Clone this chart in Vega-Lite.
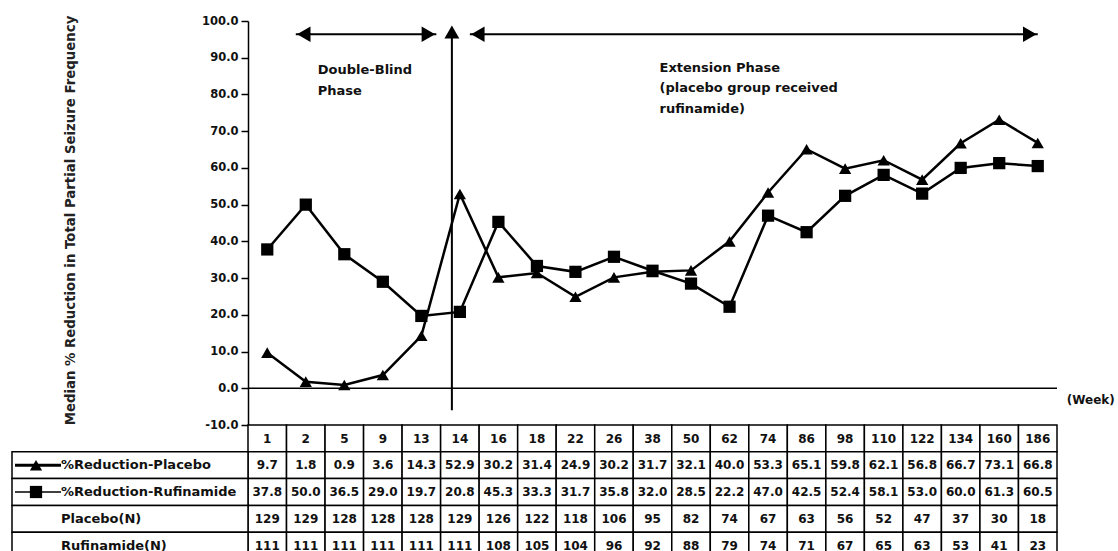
{
  "$schema": "https://vega.github.io/schema/vega-lite/v6.json",
  "width": 809,
  "height": 530,
  "autosize": {"type": "none"},
  "padding": {"left": 248, "top": 21, "right": 61, "bottom": 0},
  "background": "white",
  "config": {"font": "DejaVu Sans", "view": {"stroke": null}},
  "datasets": {
    "series": [
      {"week": 1, "placebo": 9.7, "rufinamide": 37.8, "nPlacebo": 129, "nRufinamide": 111},
      {"week": 2, "placebo": 1.8, "rufinamide": 50.0, "nPlacebo": 129, "nRufinamide": 111},
      {"week": 5, "placebo": 0.9, "rufinamide": 36.5, "nPlacebo": 128, "nRufinamide": 111},
      {"week": 9, "placebo": 3.6, "rufinamide": 29.0, "nPlacebo": 128, "nRufinamide": 111},
      {"week": 13, "placebo": 14.3, "rufinamide": 19.7, "nPlacebo": 128, "nRufinamide": 111},
      {"week": 14, "placebo": 52.9, "rufinamide": 20.8, "nPlacebo": 129, "nRufinamide": 111},
      {"week": 16, "placebo": 30.2, "rufinamide": 45.3, "nPlacebo": 126, "nRufinamide": 108},
      {"week": 18, "placebo": 31.4, "rufinamide": 33.3, "nPlacebo": 122, "nRufinamide": 105},
      {"week": 22, "placebo": 24.9, "rufinamide": 31.7, "nPlacebo": 118, "nRufinamide": 104},
      {"week": 26, "placebo": 30.2, "rufinamide": 35.8, "nPlacebo": 106, "nRufinamide": 96},
      {"week": 38, "placebo": 31.7, "rufinamide": 32.0, "nPlacebo": 95, "nRufinamide": 92},
      {"week": 50, "placebo": 32.1, "rufinamide": 28.5, "nPlacebo": 82, "nRufinamide": 88},
      {"week": 62, "placebo": 40.0, "rufinamide": 22.2, "nPlacebo": 74, "nRufinamide": 79},
      {"week": 74, "placebo": 53.3, "rufinamide": 47.0, "nPlacebo": 67, "nRufinamide": 74},
      {"week": 86, "placebo": 65.1, "rufinamide": 42.5, "nPlacebo": 63, "nRufinamide": 71},
      {"week": 98, "placebo": 59.8, "rufinamide": 52.4, "nPlacebo": 56, "nRufinamide": 67},
      {"week": 110, "placebo": 62.1, "rufinamide": 58.1, "nPlacebo": 52, "nRufinamide": 65},
      {"week": 122, "placebo": 56.8, "rufinamide": 53.0, "nPlacebo": 47, "nRufinamide": 63},
      {"week": 134, "placebo": 66.7, "rufinamide": 60.0, "nPlacebo": 37, "nRufinamide": 53},
      {"week": 160, "placebo": 73.1, "rufinamide": 61.3, "nPlacebo": 30, "nRufinamide": 41},
      {"week": 186, "placebo": 66.8, "rufinamide": 60.5, "nPlacebo": 18, "nRufinamide": 23}
    ]
  },
  "resolve": {"scale": {"x": "independent", "y": "independent"}},
  "layer": [
    {
      "data": {"name": "series"},
      "layer": [
        {
          "mark": {"type": "rect", "fill": "white", "stroke": "black", "strokeWidth": 1.5},
          "encoding": {
            "x": {"field": "week", "type": "ordinal", "scale": {"type": "band", "domain": [1,2,5,9,13,14,16,18,22,26,38,50,62,74,86,98,110,122,134,160,186], "paddingInner": 0, "paddingOuter": 0}, "axis": null},
            "y": {"datum": "week", "type": "nominal", "scale": {"type": "band", "domain": ["week","placebo","rufinamide","nPlacebo","nRufinamide"], "range": [404, 538], "paddingInner": 0, "paddingOuter": 0}, "axis": null}
          }
        },
        {
          "mark": {"type": "text", "fontSize": 12, "fontWeight": "bold", "color": "#111", "dy": 1},
          "encoding": {
            "x": {"field": "week", "type": "ordinal", "axis": null},
            "y": {"datum": "week", "type": "nominal", "axis": null},
            "text": {"field": "week", "type": "ordinal"}
          }
        },
        {
          "transform": [{"fold": ["placebo", "rufinamide", "nPlacebo", "nRufinamide"], "as": ["row", "v"]}],
          "mark": {"type": "rect", "fill": "white", "stroke": "black", "strokeWidth": 1.5},
          "encoding": {
            "x": {"field": "week", "type": "ordinal", "axis": null},
            "y": {"field": "row", "type": "nominal", "axis": null}
          }
        },
        {
          "transform": [{"fold": ["placebo", "rufinamide"], "as": ["row", "v"]}],
          "mark": {"type": "text", "fontSize": 12, "fontWeight": "bold", "color": "#111"},
          "encoding": {
            "x": {"field": "week", "type": "ordinal", "axis": null},
            "y": {"field": "row", "type": "nominal", "axis": null},
            "text": {"field": "v", "type": "quantitative", "format": ".1f"}
          }
        },
        {
          "transform": [{"fold": ["nPlacebo", "nRufinamide"], "as": ["row", "v"]}],
          "mark": {"type": "text", "fontSize": 12, "fontWeight": "bold", "color": "#111"},
          "encoding": {
            "x": {"field": "week", "type": "ordinal", "axis": null},
            "y": {"field": "row", "type": "nominal", "axis": null},
            "text": {"field": "v", "type": "quantitative", "format": "d"}
          }
        }
      ]
    },
    {
      "data": {"values": [
        {"key": "placebo", "label": "%Reduction-Placebo"},
        {"key": "rufinamide", "label": "%Reduction-Rufinamide"},
        {"key": "nPlacebo", "label": "Placebo(N)"},
        {"key": "nRufinamide", "label": "Rufinamide(N)"}
      ]},
      "layer": [
        {
          "mark": {"type": "rect", "fill": "white", "stroke": "black", "strokeWidth": 1.5},
          "encoding": {
            "x": {"datum": "label", "type": "nominal", "scale": {"type": "band", "domain": ["label"], "range": [-236, 0], "paddingInner": 0, "paddingOuter": 0}, "axis": null},
            "y": {"field": "key", "type": "nominal", "scale": {"type": "band", "domain": ["week","placebo","rufinamide","nPlacebo","nRufinamide"], "range": [404, 538], "paddingInner": 0, "paddingOuter": 0}, "axis": null}
          }
        },
        {
          "mark": {"type": "text", "align": "left", "dx": 49, "fontSize": 13, "fontWeight": "bold", "color": "#111"},
          "encoding": {
            "x": {"datum": "label", "type": "nominal", "bandPosition": 0, "axis": null},
            "y": {"field": "key", "type": "nominal", "axis": null},
            "text": {"field": "label"}
          }
        },
        {
          "transform": [{"filter": "datum.key === 'placebo'"}],
          "mark": {"type": "rule", "color": "black", "strokeWidth": 3, "xOffset": 3, "x2Offset": 49},
          "encoding": {
            "x": {"datum": "label", "type": "nominal", "bandPosition": 0, "axis": null},
            "x2": {"datum": "label", "bandPosition": 0},
            "y": {"field": "key", "type": "nominal", "axis": null}
          }
        },
        {
          "transform": [{"filter": "datum.key === 'rufinamide'"}],
          "mark": {"type": "rule", "color": "black", "strokeWidth": 1.5, "xOffset": 3, "x2Offset": 49},
          "encoding": {
            "x": {"datum": "label", "type": "nominal", "bandPosition": 0, "axis": null},
            "x2": {"datum": "label", "bandPosition": 0},
            "y": {"field": "key", "type": "nominal", "axis": null}
          }
        },
        {
          "transform": [{"filter": "datum.key === 'placebo' || datum.key === 'rufinamide'"}],
          "mark": {"type": "point", "filled": true, "opacity": 1, "color": "black", "size": 150, "xOffset": 24},
          "encoding": {
            "x": {"datum": "label", "type": "nominal", "bandPosition": 0, "axis": null},
            "y": {"field": "key", "type": "nominal", "axis": null},
            "shape": {"field": "key", "type": "nominal", "scale": {"domain": ["placebo", "rufinamide"], "range": ["triangle-up", "square"]}, "legend": null}
          }
        }
      ]
    },
    {
      "layer": [
        {
          "data": {"values": [{}]},
          "mark": {"type": "rule", "color": "black", "strokeWidth": 1.5},
          "encoding": {
            "y": {"datum": 0, "type": "quantitative",
              "scale": {"domain": [-10, 100], "range": [404, 0], "nice": false, "zero": false},
              "axis": {
                "orient": "left", "values": [-10,0,10,20,30,40,50,60,70,80,90,100],
                "labelExpr": "datum.value < 0 ? '-' + format(-datum.value, '.1f') : format(datum.value, '.1f')",
                "grid": false, "tickSize": 7, "tickWidth": 1.5, "tickColor": "black",
                "domainColor": "black", "domainWidth": 1.5,
                "labelFont": "DejaVu Sans", "labelFontWeight": "bold", "labelFontSize": 11.5, "labelColor": "#111", "labelPadding": 3,
                "title": "Median % Reduction in Total Partial Seizure Frequency",
                "titleFont": "DejaVu Sans", "titleFontWeight": "bold", "titleFontSize": 13.3, "titleColor": "#222",
                "titleAngle": 270, "titleX": -178, "titleY": 199, "titleAlign": "center", "titleBaseline": "middle"
              }
            }
          }
        },
        {
          "data": {"values": [{}]},
          "mark": {"type": "rule", "color": "black", "strokeWidth": 2, "xOffset": -8},
          "encoding": {
            "x": {"datum": 14, "type": "ordinal", "scale": {"type": "point", "domain": [1,2,5,9,13,14,16,18,22,26,38,50,62,74,86,98,110,122,134,160,186], "padding": 0.5}, "axis": null},
            "y": {"datum": -6, "type": "quantitative"},
            "y2": {"datum": 97}
          }
        },
        {
          "data": {"values": [{}]},
          "mark": {"type": "rule", "color": "black", "strokeWidth": 2, "xOffset": -10, "x2Offset": 15},
          "encoding": {
            "x": {"datum": 2, "type": "ordinal", "axis": null},
            "x2": {"datum": 13},
            "y": {"datum": 96.4, "type": "quantitative"}
          }
        },
        {
          "data": {"values": [{}]},
          "mark": {"type": "rule", "color": "black", "strokeWidth": 2, "xOffset": 10, "x2Offset": 0},
          "encoding": {
            "x": {"datum": 14, "type": "ordinal", "axis": null},
            "x2": {"datum": 186},
            "y": {"datum": 96.4, "type": "quantitative"}
          }
        },
        {
          "data": {"values": [{}]},
          "mark": {"type": "point", "shape": "triangle-left", "filled": true, "opacity": 1, "color": "black", "size": 240, "xOffset": -2},
          "encoding": {"x": {"datum": 2, "type": "ordinal", "axis": null}, "y": {"datum": 96.4, "type": "quantitative"}}
        },
        {
          "data": {"values": [{}]},
          "mark": {"type": "point", "shape": "triangle-right", "filled": true, "opacity": 1, "color": "black", "size": 240, "xOffset": 7},
          "encoding": {"x": {"datum": 13, "type": "ordinal", "axis": null}, "y": {"datum": 96.4, "type": "quantitative"}}
        },
        {
          "data": {"values": [{}]},
          "mark": {"type": "point", "shape": "triangle-left", "filled": true, "opacity": 1, "color": "black", "size": 240, "xOffset": 18},
          "encoding": {"x": {"datum": 14, "type": "ordinal", "axis": null}, "y": {"datum": 96.4, "type": "quantitative"}}
        },
        {
          "data": {"values": [{}]},
          "mark": {"type": "point", "shape": "triangle-right", "filled": true, "opacity": 1, "color": "black", "size": 240, "xOffset": -8},
          "encoding": {"x": {"datum": 186, "type": "ordinal", "axis": null}, "y": {"datum": 96.4, "type": "quantitative"}}
        },
        {
          "data": {"values": [{}]},
          "mark": {"type": "point", "shape": "triangle-up", "filled": true, "opacity": 1, "color": "black", "size": 220, "xOffset": -8},
          "encoding": {"x": {"datum": 14, "type": "ordinal", "axis": null}, "y": {"datum": 97, "type": "quantitative"}}
        },
        {
          "data": {"values": [{}]},
          "mark": {"type": "text", "align": "left", "baseline": "middle", "dx": 12, "lineHeight": 21, "fontSize": 13, "fontWeight": "bold", "color": "#111"},
          "encoding": {
            "x": {"datum": 2, "type": "ordinal", "axis": null},
            "y": {"datum": 86.6, "type": "quantitative"},
            "text": {"value": ["Double-Blind", "Phase"]}
          }
        },
        {
          "data": {"values": [{}]},
          "mark": {"type": "text", "align": "left", "baseline": "middle", "dx": 7, "lineHeight": 20.5, "fontSize": 13, "fontWeight": "bold", "color": "#111"},
          "encoding": {
            "x": {"datum": 38, "type": "ordinal", "axis": null},
            "y": {"datum": 87.3, "type": "quantitative"},
            "text": {"value": ["Extension Phase", "\u00a0(placebo group received", "rufinamide)"]}
          }
        },
        {
          "data": {"values": [{}]},
          "mark": {"type": "text", "align": "left", "baseline": "middle", "dx": 29, "fontSize": 12, "fontWeight": "bold", "color": "#111"},
          "encoding": {
            "x": {"datum": 186, "type": "ordinal", "axis": null},
            "y": {"datum": -3.2, "type": "quantitative"},
            "text": {"value": "(Week)"}
          }
        },
        {
          "data": {"name": "series"},
          "transform": [{"fold": ["placebo", "rufinamide"], "as": ["series", "value"]}],
          "mark": {"type": "line", "color": "black", "strokeWidth": 2.5},
          "encoding": {
            "x": {"field": "week", "type": "ordinal", "axis": null},
            "y": {"field": "value", "type": "quantitative"},
            "detail": {"field": "series"}
          }
        },
        {
          "data": {"name": "series"},
          "transform": [{"fold": ["placebo", "rufinamide"], "as": ["series", "value"]}],
          "mark": {"type": "point", "filled": true, "opacity": 1, "color": "black", "size": 150},
          "encoding": {
            "x": {"field": "week", "type": "ordinal", "axis": null},
            "y": {"field": "value", "type": "quantitative"},
            "shape": {"field": "series", "type": "nominal", "scale": {"domain": ["placebo", "rufinamide"], "range": ["triangle-up", "square"]}, "legend": null}
          }
        }
      ]
    }
  ]
}
